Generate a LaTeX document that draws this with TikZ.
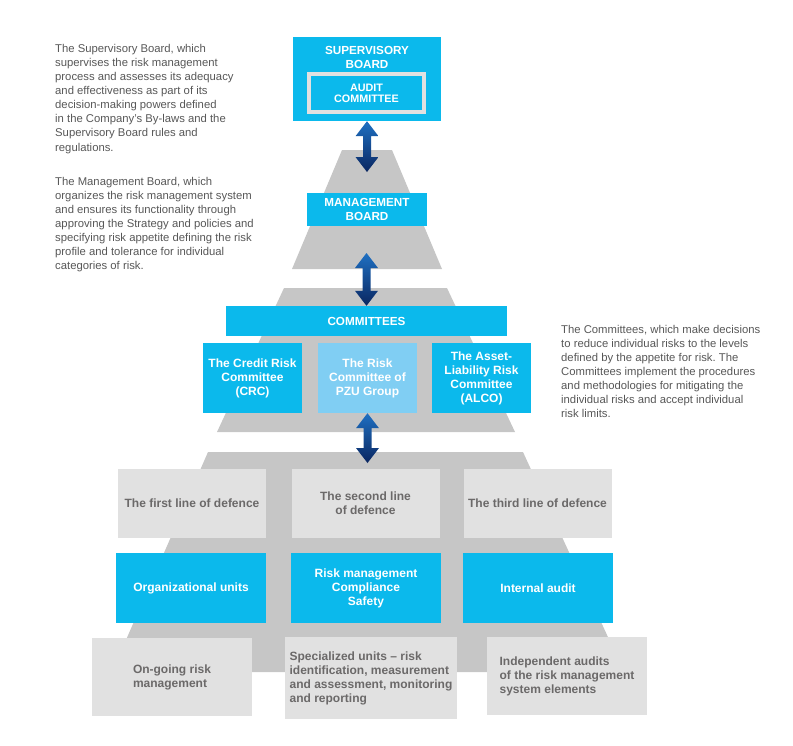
\documentclass[tikz,border=0pt]{standalone}
\usepackage{fontspec}
\setmainfont{Liberation Sans}
\frenchspacing
\usepackage{tikz}
\usetikzlibrary{calc,positioning}
\definecolor{pzucyan}{HTML}{0BB9EC}
\definecolor{pzulight}{HTML}{80CEF3}
\definecolor{boxgray}{HTML}{E1E1E1}
\definecolor{tiergray}{HTML}{C6C6C6}
\definecolor{textgray}{HTML}{6B6969}
\definecolor{descgray}{HTML}{575757}
\definecolor{arrowtop}{HTML}{1F70C2}
\definecolor{arrowbot}{HTML}{0A2660}
\tikzset{
tier/.style={
    fill=tiergray
},
block/.style={
    rectangle,
    fill=pzucyan,
    text=white,
    align=center,
    inner sep=0pt,
    font=\fontsize{11.7}{13.3}\selectfont\bfseries
},
committee/.style={
    block,
    minimum width=99pt,
    minimum height=70pt,
    font=\fontsize{12}{14}\selectfont\bfseries
},
unit/.style={
    block,
    minimum width=150pt,
    minimum height=70pt,
    font=\fontsize{12}{14}\selectfont\bfseries
},
defence/.style={
    rectangle,
    fill=boxgray,
    text=textgray,
    align=center,
    minimum width=148pt,
    minimum height=69pt,
    inner sep=0pt,
    font=\fontsize{12}{14}\selectfont\bfseries
},
task/.style={
    defence,
    align=left
},
descr/.style={
    anchor=north west,
    align=left,
    text=descgray,
    inner sep=0pt,
    font=\fontsize{11.3}{14.1}\selectfont
},
link/.style={
    top color=arrowtop,
    bottom color=arrowbot,
    to path={(\tikztostart) -- ($(\tikztostart)+(11.5,15)$) -- ($(\tikztostart)+(4,15)$)
      -- ($(\tikztotarget)+(4,-15)$) -- ($(\tikztotarget)+(11.5,-15)$) -- (\tikztotarget)
      -- ($(\tikztotarget)+(-11.5,-15)$) -- ($(\tikztotarget)+(-4,-15)$)
      -- ($(\tikztostart)+(-4,15)$) -- ($(\tikztostart)+(-11.5,15)$) -- cycle}
}
}
\begin{document}
\begin{tikzpicture}[x=1pt,y=-1pt]
\useasboundingbox (0,0) rectangle (793,745);

\fill[tier] (342,150) -- (392,150) -- (442,269) -- (292,269) -- cycle;
\fill[tier] (284,288) -- (447,288) -- (515,432) -- (217,432) -- cycle;
\fill[tier] (208,452) -- (523,452) -- (624,672) -- (112,672) -- cycle;

\node[block, minimum width=148pt, minimum height=84pt] (sb) at (367,79) {};
\node[block] (sbtitle) at (367,57.5) {SUPERVISORY\\BOARD};
\node[block, draw=boxgray, line width=4pt, minimum width=115pt, minimum height=38pt,
  font=\fontsize{10.8}{10.7}\selectfont\bfseries] (audit) at (366.5,93) {AUDIT\\COMMITTEE};
\node[block, minimum width=120pt, minimum height=33pt] (mb) at (367,209.5) {MANAGEMENT\\BOARD};
\node[block, minimum width=281pt, minimum height=30pt] (comm) at (366.5,321) {COMMITTEES};

\node[committee] (crc) at (252.5,378) {The Credit Risk\\Committee\\(CRC)};
\node[committee, fill=pzulight] (pzu) at (367.5,378) {The Risk\\Committee of\\PZU Group};
\node[committee] (alco) at (481.5,378) {The Asset-\\Liability Risk\\Committee\\(ALCO)};

\node[defence] (first) at (192,503.5) {The first line of defence};
\node[defence] (second) at (365.5,503.5) {The second line\\of defence};
\node[defence] (third) at (537.5,503.5) {The third line of defence};

\node[unit] (org) at (191,588) {Organizational units};
\node[unit] (rmc) at (366,588) {Risk management\\Compliance\\Safety};
\node[unit] (ia) at (538,588) {Internal audit};

\node[task, minimum width=160pt, minimum height=78pt] (ongoing) at (172,677) {On-going risk\\management};
\node[task, minimum width=172pt, minimum height=82pt] (special) at (371,678) {Specialized units -- risk\\identification, measurement\\and assessment, monitoring\\and reporting};
\node[task, minimum width=160pt, minimum height=78pt] (indep) at (567,676) {Independent audits\\of the risk management\\system elements};

\coordinate (a1) at (367,172);
\coordinate (a2) at (366.5,253);
\coordinate (a3) at (367.5,463);
\shade[link] (sb.south) to (a1);
\shade[link] (a2) to (comm.north);
\shade[link] (pzu.south) to (a3);

\node[descr] (sbdesc) at (55,44) {The Supervisory Board, which\\supervises the risk management\\process and assesses its adequacy\\and effectiveness as part of its\\decision-making powers defined\\in the Company’s By-laws and the\\Supervisory Board rules and\\regulations.};
\node[descr] (mbdesc) at (55,177) {The Management Board, which\\organizes the risk management system\\and ensures its functionality through\\approving the Strategy and policies and\\specifying risk appetite defining the risk\\profile and tolerance for individual\\categories of risk.};
\node[descr] (commdesc) at (561,325) {The Committees, which make decisions\\to reduce individual risks to the levels\\defined by the appetite for risk. The\\Committees implement the procedures\\and methodologies for mitigating the\\individual risks and accept individual\\risk limits.};
\end{tikzpicture}
\end{document}
